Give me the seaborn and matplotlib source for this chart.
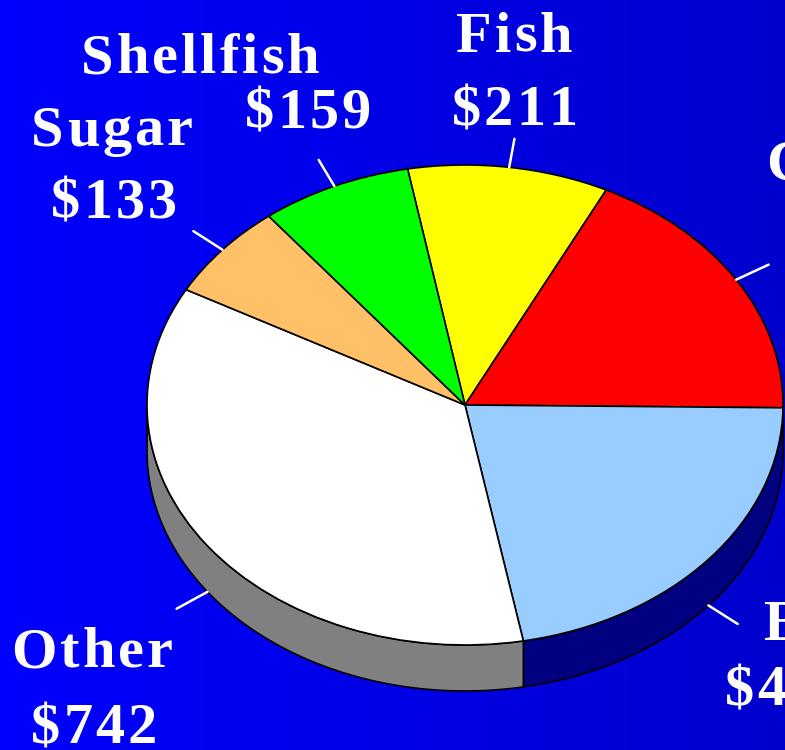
import numpy as np
import matplotlib
matplotlib.use("Agg")
import matplotlib.pyplot as plt
import seaborn as sns

# valori del grafico (milioni di dollari)
categories = ['Fish', 'Coffee', 'Beef', 'Other', 'Sugar', 'Shellfish']
values = [211, 369, 452, 742, 133, 159]
value_labels = ['$211', '$369', '$452', '$742', '$133', '$159']

top_colors = ['#FFFF00', '#FF0000', '#99CCFF', '#FFFFFF', '#FFC068', '#00FF00']
side_colors = ['#808000', '#800000', '#000080', '#808080', '#806034', '#008000']

sns.set_style("white")
plt.rcParams['font.family'] = ['Liberation Serif', 'DejaVu Serif']

W, H = 785, 750
CX, CY = 465, 405      # centro della torta in pixel
RX, RY = 318, 240      # semiassi in pixel
DEPTH = 46 / RY        # spessore 3D in unita' dati
START = 100.4
SPACING = 3            # spaziatura tra le lettere, pixel

fig = plt.figure(figsize=(W / 100, H / 100), dpi=100)
renderer = fig.canvas.get_renderer()

# sfondo sfumato
bg = fig.add_axes([0, 0, 1, 1], zorder=0)
grad = np.linspace(0, 1, 256).reshape(1, -1)
cmap = matplotlib.colors.LinearSegmentedColormap.from_list('bg', ['#0000FF', '#0000CD'])
bg.imshow(grad, aspect='auto', cmap=cmap, extent=[0, 1, 0, 1])
bg.set_axis_off()

ax = fig.add_axes([0, 0, 1, 1], zorder=1)
ax.patch.set_alpha(0)

# angoli dei settori (in senso orario)
total = sum(values)
cum = np.concatenate([[0], np.cumsum(values)]) / total
theta = START - 360 * cum

# fianchi 3D per la parte anteriore
for i in range(len(values)):
    lo, hi = max(theta[i + 1], -180), min(theta[i], 0)
    if hi <= lo:
        continue
    th = np.radians(np.linspace(lo, hi, 120))
    x = np.cos(th)
    y = np.sin(th)
    ax.fill(np.concatenate([x, x[::-1]]), np.concatenate([y, (y - DEPTH)[::-1]]),
            facecolor=side_colors[i], edgecolor='black', linewidth=1.2, zorder=1)

ax.pie(values, colors=top_colors, startangle=START, counterclock=False,
       radius=1, center=(0, 0), frame=True,
       wedgeprops=dict(edgecolor='black', linewidth=1.2, zorder=2))

# linee guida delle etichette
for i in range(len(values)):
    mid = np.radians((theta[i] + theta[i + 1]) / 2)
    shift = DEPTH if np.sin(mid) < 0 else 0
    r = np.array([1.0, 1.12])
    ax.plot(r * np.cos(mid), r * np.sin(mid) - shift, color='white', lw=1.8, zorder=3)

ax.set_aspect('auto')
ax.set_xlim(-CX / RX, (W - CX) / RX)
ax.set_ylim(-(H - CY) / RY, CY / RY)
ax.set_axis_off()

text_kw = dict(color='white', fontsize=42, fontweight='bold', va='baseline', zorder=5)


def text_width(s):
    t = fig.text(0, 0, s, **text_kw)
    w = t.get_window_extent(renderer).width
    t.remove()
    return w


def spaced_text(x, y, s, ha):
    # testo con spaziatura tra le lettere (come nell'originale)
    total_w = text_width(s) + SPACING * (len(s) - 1)
    x0 = x - total_w / 2 if ha == 'center' else x
    for k, ch in enumerate(s):
        px = x0 + (text_width(s[:k]) if k else 0) + SPACING * k
        fig.text(px / W, 1 - y / H, ch, ha='left', **text_kw)


# etichette: (x, baseline) in pixel per nome e valore, allineamento
label_pos = {
    'Fish': ((514, 52), (513, 125), 'center'),
    'Coffee': ((766, 180), (790, 253), 'left'),
    'Beef': ((763, 640), (725, 705), 'left'),
    'Other': ((92, 667), (94, 743), 'center'),
    'Sugar': ((112, 145), (114, 218), 'center'),
    'Shellfish': ((200, 73), (308, 128), 'center'),
}
for name, val in zip(categories, value_labels):
    (nx, ny), (vx, vy), ha = label_pos[name]
    spaced_text(nx, ny, name, ha)
    spaced_text(vx, vy, val, ha)

fig.savefig('out.png', dpi=100)
